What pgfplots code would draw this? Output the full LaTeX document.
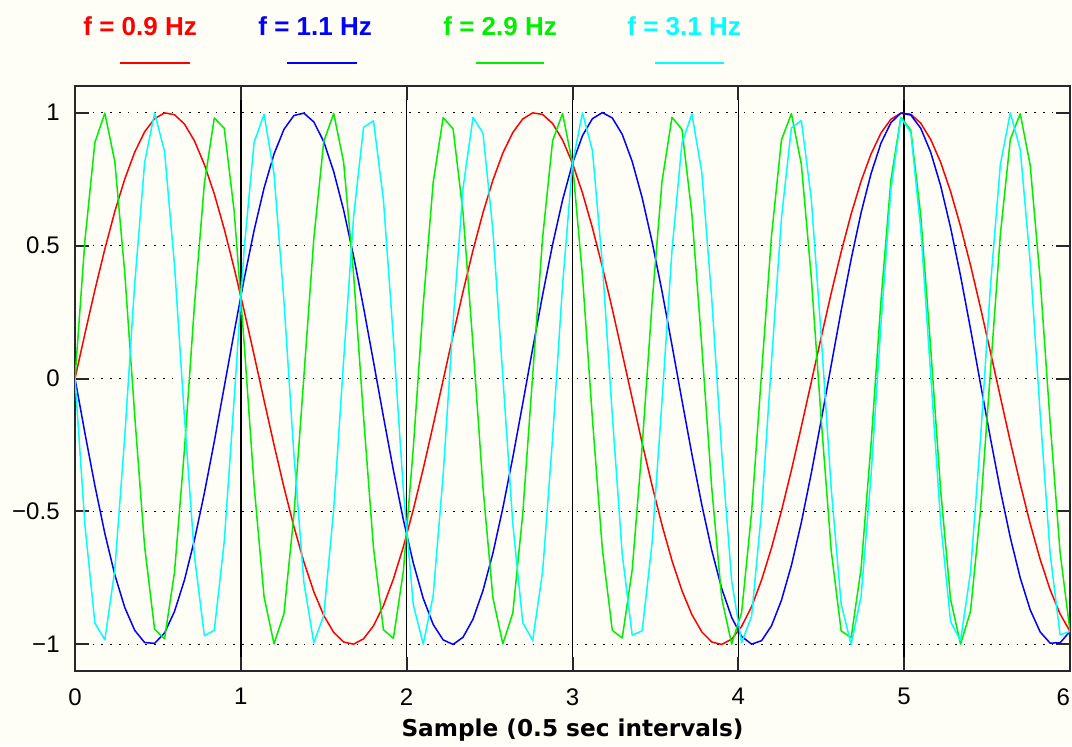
\documentclass[border=0pt]{standalone}
\usepackage{fontspec}
\setmainfont{Liberation Sans}
\newfontfamily\dejavu{DejaVu Sans}
\usepackage{pgfplots}
\pgfplotsset{compat=1.18}
\usepackage{pgfplotstable}
\definecolor{bg}{RGB}{254,254,246}
\definecolor{cred}{RGB}{255,0,0}
\definecolor{cblue}{RGB}{0,0,255}
\definecolor{cgreen}{RGB}{0,238,0}
\definecolor{ccyan}{RGB}{0,255,255}
\definecolor{axgray}{RGB}{40,40,40}

\pgfplotstableread{
x r b g c
0.00 0 0 0 0
0.06 0.169 -0.206 0.520 -0.552
0.12 0.333 -0.403 0.888 -0.920
0.18 0.487 -0.583 0.998 -0.983
0.24 0.628 -0.738 0.816 -0.720
0.30 0.750 -0.861 0.397 -0.218
0.36 0.851 -0.947 -0.138 0.356
0.42 0.928 -0.993 -0.633 0.813
0.48 0.977 -0.996 -0.943 0.999
0.54 0.999 -0.957 -0.979 0.854
0.60 0.992 -0.876 -0.729 0.426
0.66 0.957 -0.758 -0.267 -0.144
0.72 0.894 -0.608 0.273 -0.666
0.78 0.805 -0.431 0.733 -0.967
0.84 0.694 -0.237 0.980 -0.947
0.90 0.562 -0.031 0.941 -0.613
0.96 0.414 0.175 0.628 -0.075
1.02 0.255 0.374 0.132 0.487
1.08 0.088 0.557 -0.403 0.888
1.14 -0.082 0.716 -0.820 0.994
1.20 -0.249 0.844 -0.998 0.770
1.26 -0.409 0.937 -0.885 0.291
1.32 -0.557 0.989 -0.514 -0.285
1.38 -0.689 0.998 0.006 -0.766
1.44 -0.802 0.965 0.525 -0.994
1.50 -0.891 0.891 0.891 -0.891
1.56 -0.955 0.778 0.997 -0.493
1.62 -0.991 0.633 0.813 0.069
1.68 -0.999 0.460 0.391 0.608
1.74 -0.979 0.267 -0.144 0.945
1.80 -0.930 0.063 -0.637 0.969
1.86 -0.854 -0.144 -0.945 0.671
1.92 -0.754 -0.345 -0.977 0.150
1.98 -0.633 -0.531 -0.725 -0.420
2.04 -0.493 -0.694 -0.261 -0.851
2.10 -0.339 -0.827 0.279 -0.999
2.16 -0.175 -0.925 0.738 -0.816
2.22 -0.006 -0.983 0.981 -0.362
2.28 0.163 -1.000 0.939 0.212
2.34 0.327 -0.973 0.623 0.716
2.40 0.482 -0.905 0.125 0.982
2.46 0.623 -0.798 -0.409 0.923
2.52 0.746 -0.657 -0.824 0.557
2.58 0.848 -0.487 -0.998 0.006
2.64 0.925 -0.297 -0.882 -0.546
2.70 0.976 -0.094 -0.509 -0.918
2.76 0.999 0.113 0.013 -0.985
2.82 0.993 0.315 0.531 -0.725
2.88 0.959 0.504 0.894 -0.224
2.94 0.897 0.671 0.997 0.351
3.00 0.809 0.809 0.809 0.809
3.06 0.698 0.913 0.386 0.999
3.12 0.567 0.977 -0.150 0.858
3.18 0.420 1.000 -0.642 0.431
3.24 0.261 0.980 -0.947 -0.138
3.30 0.094 0.918 -0.976 -0.661
3.36 -0.075 0.816 -0.720 -0.965
3.42 -0.243 0.680 -0.255 -0.949
3.48 -0.403 0.514 0.285 -0.618
3.54 -0.552 0.327 0.742 -0.082
3.60 -0.685 0.125 0.982 0.482
3.66 -0.798 -0.082 0.937 0.885
3.72 -0.888 -0.285 0.618 0.995
3.78 -0.953 -0.476 0.119 0.774
3.84 -0.991 -0.647 -0.414 0.297
3.90 -1.000 -0.790 -0.827 -0.279
3.96 -0.980 -0.899 -0.999 -0.762
4.02 -0.932 -0.970 -0.879 -0.993
4.08 -0.858 -0.999 -0.504 -0.894
4.14 -0.758 -0.986 0.019 -0.498
4.20 -0.637 -0.930 0.536 0.063
4.26 -0.498 -0.834 0.897 0.603
4.32 -0.345 -0.703 0.996 0.943
4.38 -0.181 -0.541 0.805 0.970
4.44 -0.013 -0.356 0.380 0.675
4.50 0.156 -0.156 -0.156 0.156
4.56 0.321 0.050 -0.647 -0.414
4.62 0.476 0.255 -0.949 -0.848
4.68 0.618 0.448 -0.975 -1.000
4.74 0.742 0.623 -0.716 -0.820
4.80 0.844 0.770 -0.249 -0.368
4.86 0.923 0.885 0.291 0.206
4.92 0.975 0.962 0.746 0.712
4.98 0.998 0.998 0.983 0.981
5.04 0.994 0.991 0.934 0.925
5.10 0.960 0.941 0.613 0.562
5.16 0.899 0.851 0.113 0.013
5.22 0.813 0.725 -0.420 -0.541
5.28 0.703 0.567 -0.831 -0.915
5.34 0.572 0.386 -0.999 -0.986
5.40 0.426 0.187 -0.876 -0.729
5.46 0.267 -0.019 -0.498 -0.230
5.52 0.100 -0.224 0.025 0.345
5.58 -0.069 -0.420 0.541 0.805
5.64 -0.237 -0.598 0.899 0.999
5.70 -0.397 -0.750 0.996 0.861
5.76 -0.546 -0.870 0.802 0.437
5.82 -0.680 -0.953 0.374 -0.132
5.88 -0.794 -0.995 -0.163 -0.657
5.94 -0.885 -0.994 -0.652 -0.964
6.00 -0.951 -0.951 -0.951 -0.951
}\sig

\begin{document}
\begin{tikzpicture}
\fill[bg] (0,0) rectangle (536pt,373pt);
\useasboundingbox (0,0) rectangle (536pt,373pt);
\begin{axis}[
  at={(37.5pt,37.5pt)}, anchor=south west,
  scale only axis, width=497.5pt, height=292.5pt,
  xmin=0, xmax=6, ymin=-1.1, ymax=1.1,
  xtick={0,1,2,3,4,5,6},
  xticklabels={0,1,2,3,4,5,\llap{6}},
  ytick={-1,-0.5,0,0.5,1},
  yticklabels={−1,−0.5,0,0.5,1},
  tick align=inside,
  ytick pos=both,
  yticklabel pos=left,
  xticklabel pos=left,
  major tick length=7pt,
  every tick/.style={axgray, line width=1pt},
  axis line style={axgray, line width=1pt},
  xmajorgrids, ymajorgrids,
  x grid style={black, line width=0.75pt},
  y grid style={black, line width=0.8pt, dash pattern=on 0.8pt off 3.6pt},
  ticklabel style={font=\fontsize{12}{14}\selectfont, inner sep=0pt},
  xticklabel style={anchor=north, yshift=-8.5pt},
  yticklabel style={anchor=east, xshift=-7.5pt},
  xlabel={Sample (0.5 sec intervals)},
  xlabel style={at={(axis description cs:0.5,0)}, anchor=base, yshift=-32.5pt, inner sep=0pt,
    font=\dejavu\bfseries\fontsize{11.6}{13}\selectfont},
  every axis plot/.append style={line width=0.75pt, line join=round, mark=none},
]
\addplot[cred] table[x=x, y=r] {\sig};
\addplot[cblue] table[x=x, y=b] {\sig};
\addplot[cgreen] table[x=x, y=g] {\sig};
\addplot[ccyan] table[x=x, y=c] {\sig};
\end{axis}
% legend
\begin{scope}[every node/.style={anchor=base west, inner sep=0pt, font=\bfseries\fontsize{13}{15}\selectfont}]
\node[text=cred]  at (41.5pt,355pt) {f = 0.9 Hz};
\node[text=cblue] at (129pt,355pt) {f = 1.1 Hz};
\node[text=cgreen] at (221.5pt,355pt) {f = 2.9 Hz};
\node[text=ccyan] at (313.5pt,355pt) {f = 3.1 Hz};
\end{scope}
\draw[cred, line width=0.75pt] (60pt,341.5pt) -- (95pt,341.5pt);
\draw[cblue, line width=0.75pt] (143.5pt,341.5pt) -- (178.5pt,341.5pt);
\draw[cgreen, line width=0.75pt] (238pt,341.5pt) -- (272pt,341.5pt);
\draw[ccyan, line width=0.75pt] (327.5pt,341.5pt) -- (362pt,341.5pt);
\end{tikzpicture}
\end{document}
